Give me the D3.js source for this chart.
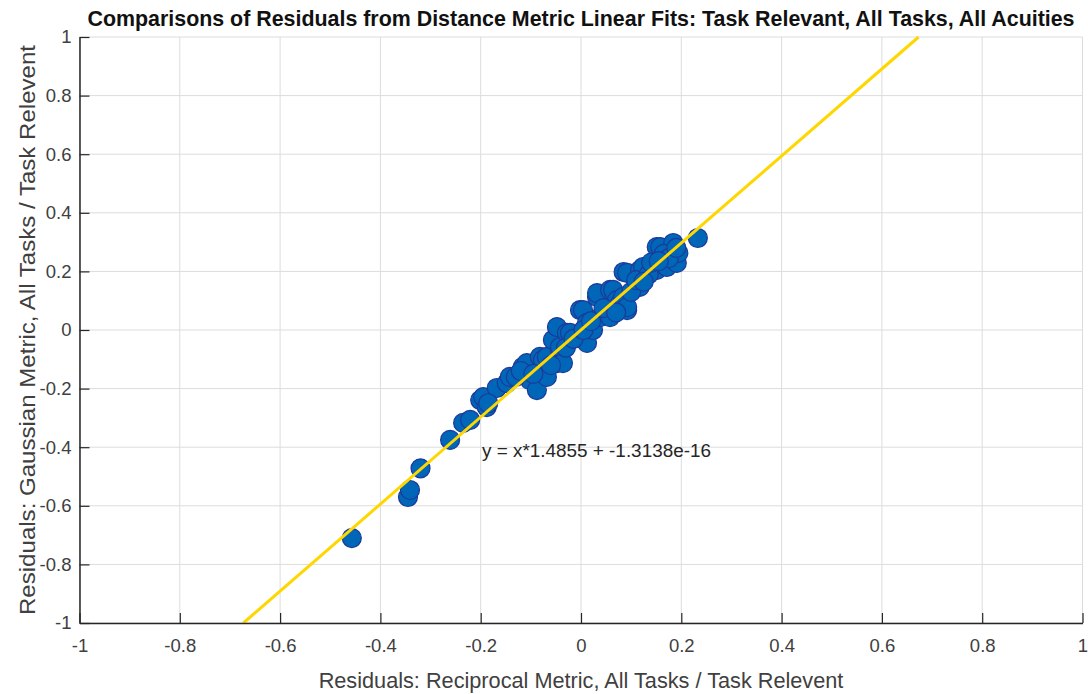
<!DOCTYPE html>
<html>
<head>
<meta charset="utf-8">
<script src="https://cdn.jsdelivr.net/npm/d3@7"></script>
<style>
  body { margin: 0; background: #fff; }
  svg { display: block; font-family: "Liberation Sans", Arial, Helvetica, sans-serif; }
</style>
</head>
<body>
<svg id="chart" width="1088" height="694"></svg>
<script>
// residuals: reciprocal metric (x) vs gaussian metric (y)
const residX = [
  -0.457, -0.345, -0.341, -0.320, -0.261, -0.235, -0.221, -0.201, -0.195, -0.188,
  -0.168, -0.148, -0.142, -0.116, -0.108, -0.102, -0.088, -0.082, -0.076, -0.068,
  -0.068, -0.056, -0.048, -0.048, -0.042, -0.042, -0.036, -0.028, -0.022, -0.002,
  0.004, 0.012, 0.012, 0.024, 0.032, 0.032, 0.038, 0.052, 0.058, 0.058,
  0.064, 0.072, 0.078, 0.084, 0.085, 0.092, 0.092, 0.092, 0.117, 0.118,
  0.124, 0.151, 0.151, 0.158, 0.171, 0.184, 0.191, 0.194, 0.233,
  -0.185, -0.130, -0.120, -0.095, -0.060, -0.030, -0.015, 0.005, 0.020, 0.045,
  0.070, 0.100, 0.110, 0.135, 0.140, 0.165, 0.175, 0.190, 0.155, 0.125
];
const residY = [
  -0.710, -0.570, -0.546, -0.472, -0.375, -0.317, -0.307, -0.239, -0.229, -0.263,
  -0.198, -0.181, -0.160, -0.126, -0.113, -0.171, -0.205, -0.092, -0.102, -0.160,
  -0.092, -0.034, 0.010, -0.113, -0.068, -0.058, -0.113, -0.010, -0.010, 0.068,
  0.068, 0.024, -0.044, 0.000, 0.113, 0.126, 0.044, 0.058, 0.137, 0.044,
  0.137, 0.102, 0.092, 0.113, 0.198, 0.068, 0.195, 0.078, 0.147, 0.205,
  0.215, 0.283, 0.205, 0.283, 0.215, 0.297, 0.229, 0.263, 0.314,
  -0.250, -0.160, -0.140, -0.150, -0.120, -0.060, -0.030, 0.000, 0.030, 0.075,
  0.060, 0.130, 0.170, 0.190, 0.230, 0.260, 0.245, 0.280, 0.235, 0.165
];
const fitSlope = 1.4855;
const fitIntercept = -1.3138e-16;
const tickValues = [-1, -0.8, -0.6, -0.4, -0.2, 0, 0.2, 0.4, 0.6, 0.8, 1];

const titleText = "Comparisons of Residuals from Distance Metric Linear Fits: Task Relevant, All Tasks, All Acuities";
const xLabel = "Residuals: Reciprocal Metric, All Tasks / Task Relevent";
const yLabel = "Residuals: Gaussian Metric, All Tasks / Task Relevent";
const fitLabel = "y = x*1.4855 + -1.3138e-16";

const svg = d3.select("#chart");
const plotL = 79.5, plotR = 1082.5, plotT = 37, plotB = 623;

const x = d3.scaleLinear().domain([-1, 1]).range([plotL, plotR]);
const y = d3.scaleLinear().domain([-1, 1]).range([plotB, plotT]);

const axisColor = "#262626";
const gridColor = "#dcdcdc";

// --- grid ---
const grid = svg.append("g");
grid.selectAll("line.gx").data(tickValues).join("line")
  .attr("class", "gx")
  .attr("x1", d => x(d)).attr("x2", d => x(d))
  .attr("y1", plotT).attr("y2", plotB)
  .attr("stroke", gridColor).attr("stroke-width", 1);
grid.selectAll("line.gy").data(tickValues).join("line")
  .attr("class", "gy")
  .attr("y1", d => y(d)).attr("y2", d => y(d))
  .attr("x1", plotL).attr("x2", plotR)
  .attr("stroke", gridColor).attr("stroke-width", 1);

// --- scatter points ---
const pts = d3.zip(residX, residY);
svg.append("g").selectAll("circle").data(pts).join("circle")
  .attr("cx", d => x(d[0]))
  .attr("cy", d => y(d[1]))
  .attr("r", 9.5)
  .attr("fill", "#0066b8")
  .attr("stroke", "#1c3a99")
  .attr("stroke-width", 1.2);

// --- fit line, clipped to the y range ---
const x0 = (-1 - fitIntercept) / fitSlope;
const x1 = (1 - fitIntercept) / fitSlope;
svg.append("line")
  .attr("x1", x(x0)).attr("y1", y(fitSlope * x0 + fitIntercept))
  .attr("x2", x(x1)).attr("y2", y(fitSlope * x1 + fitIntercept))
  .attr("stroke", "#ffd700").attr("stroke-width", 3);

// --- axes (ticks pointing inward, MATLAB style) ---
const fmt = d => d3.format("~g")(d).replace("−", "-");
const xAxis = d3.axisBottom(x).tickValues(tickValues).tickFormat(fmt)
  .tickSizeInner(-10).tickSizeOuter(0).tickPadding(16);
const gx = svg.append("g").attr("transform", `translate(0,${plotB})`).call(xAxis);

const yAxis = d3.axisLeft(y).tickValues(tickValues).tickFormat(fmt)
  .tickSizeInner(-10).tickSizeOuter(0).tickPadding(8);
const gy = svg.append("g").attr("transform", `translate(${plotL},0)`).call(yAxis);

[gx, gy].forEach(g => {
  g.select(".domain").attr("stroke", axisColor).attr("stroke-width", 1.5);
  g.selectAll(".tick line").attr("stroke", axisColor).attr("stroke-width", 1.2);
  g.selectAll(".tick text").attr("fill", "#404040")
    .style("font-size", "18.5px")
    .style("font-family", "'Liberation Sans', Arial, sans-serif");
});

// --- text ---
svg.append("text")
  .attr("x", (plotL + plotR) / 2).attr("y", 26)
  .attr("text-anchor", "middle")
  .attr("font-weight", "bold").attr("font-size", 21.4)
  .attr("fill", "#111")
  .text(titleText);

svg.append("text")
  .attr("x", (plotL + plotR) / 2).attr("y", 688)
  .attr("text-anchor", "middle")
  .attr("font-size", 21.7).attr("fill", "#404040")
  .text(xLabel);

svg.append("text")
  .attr("transform", `translate(35,${(plotT + plotB) / 2}) rotate(-90)`)
  .attr("text-anchor", "middle")
  .attr("font-size", 21.7).attr("fill", "#404040")
  .attr("textLength", 570).attr("lengthAdjust", "spacingAndGlyphs")
  .text(yLabel);

svg.append("text")
  .attr("x", 482).attr("y", 457)
  .attr("font-size", 18.9).attr("fill", "#262626")
  .text(fitLabel);
</script>
</body>
</html>
